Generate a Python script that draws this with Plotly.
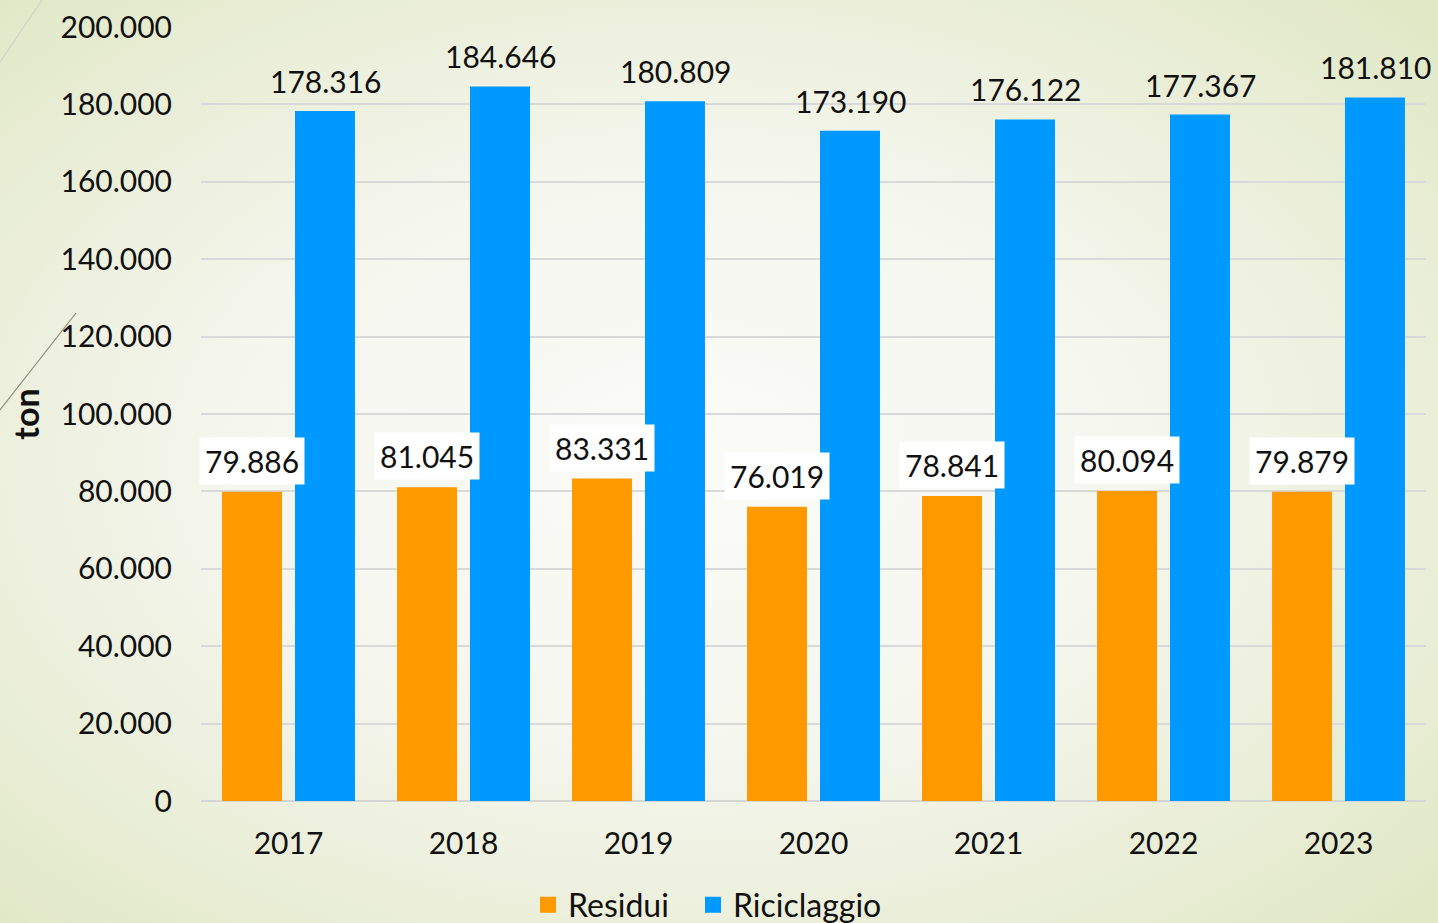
import base64
import plotly.graph_objects as go

years = ["2017", "2018", "2019", "2020", "2021", "2022", "2023"]
residui = [79886, 81045, 83331, 76019, 78841, 80094, 79879]
riciclaggio = [178316, 184646, 180809, 173190, 176122, 177367, 181810]
residui_labels = ["79.886", "81.045", "83.331", "76.019", "78.841", "80.094", "79.879"]
riciclaggio_labels = ["178.316", "184.646", "180.809", "173.190", "176.122", "177.367", "181.810"]
tick_vals = [0, 20000, 40000, 60000, 80000, 100000, 120000, 140000, 160000, 180000, 200000]
tick_text = ["0", "20.000", "40.000", "60.000", "80.000", "100.000", "120.000",
             "140.000", "160.000", "180.000", "200.000"]

W, H = 1438, 923
L, R, T, B = 201, 12, 27, 122
PW, PH = W - L - R, H - T - B

FONT = "Lato, 'Open Sans', sans-serif"
FS = 30
ORANGE = "#FF9900"
BLUE = "#0099FF"

svg = f"""<svg xmlns='http://www.w3.org/2000/svg' width='{W}' height='{H}' viewBox='0 0 {W} {H}' preserveAspectRatio='none'>
<defs><radialGradient id='g' cx='48%' cy='50%' r='70%'>
<stop offset='0' stop-color='#FBFBF8'/>
<stop offset='0.45' stop-color='#F5F6EE'/>
<stop offset='1' stop-color='#E1E8C6'/>
</radialGradient></defs>
<rect width='{W}' height='{H}' fill='url(#g)'/>
</svg>"""
bg_src = "data:image/svg+xml;base64," + base64.b64encode(svg.encode()).decode()

fig = go.Figure()
fig.add_trace(go.Bar(name="Residui", x=years, y=residui, marker_color=ORANGE,
                     marker_line_width=0, showlegend=False))
fig.add_trace(go.Bar(name="Riciclaggio", x=years, y=riciclaggio, marker_color=BLUE,
                     marker_line_width=0, showlegend=False))
# legend entries with larger square swatches, each in its own legend box
for name, col, lg in (("Residui", ORANGE, "legend"), ("Riciclaggio", BLUE, "legend2")):
    fig.add_trace(go.Scatter(name=name, x=[None], y=[None], mode="markers",
                             marker=dict(symbol="square", size=17, color=col),
                             showlegend=True, legend=lg))

annotations = []
for i, (v, t) in enumerate(zip(residui, residui_labels)):
    annotations.append(dict(x=i, y=v, xref="x", yref="y", text=t, showarrow=False,
                            xshift=-36.5, yshift=7, yanchor="bottom",
                            bgcolor="white", borderpad=5,
                            font=dict(family=FONT, size=FS, color="#111111")))
for i, (v, t) in enumerate(zip(riciclaggio, riciclaggio_labels)):
    annotations.append(dict(x=i, y=v, xref="x", yref="y", text=t, showarrow=False,
                            xshift=36.5, yshift=10, yanchor="bottom",
                            font=dict(family=FONT, size=FS, color="#111111")))


def px_x(p):
    return (p - L) / PW


def px_y(p):
    return (H - B - p) / PH


shapes = [
    dict(type="line", xref="paper", yref="paper", x0=px_x(0), y0=px_y(62),
         x1=px_x(42), y1=px_y(0), line=dict(color="#D2D3C4", width=1.2)),
    dict(type="line", xref="paper", yref="paper", x0=px_x(0), y0=px_y(410),
         x1=px_x(76), y1=px_y(313), line=dict(color="#8E8A7A", width=1.2)),
]

legend_common = dict(orientation="h", xref="container", yref="container",
                     xanchor="left", y=(H - 905) / H, yanchor="middle",
                     font=dict(family=FONT, size=32, color="#111111"),
                     bgcolor="rgba(0,0,0,0)", itemwidth=30, tracegroupgap=0,
                     itemsizing="trace")

fig.update_layout(
    width=W, height=H,
    margin=dict(l=L, r=R, t=T, b=B, autoexpand=False),
    paper_bgcolor="#F4F6EC",
    plot_bgcolor="rgba(0,0,0,0)",
    barmode="group",
    bargap=0.166,
    bargroupgap=0.178,
    font=dict(family=FONT, size=FS, color="#111111"),
    images=[dict(source=bg_src, xref="paper", yref="paper",
                 x=-L / PW, y=1 + T / PH, sizex=W / PW, sizey=H / PH,
                 xanchor="left", yanchor="top", sizing="stretch", layer="below")],
    annotations=annotations,
    shapes=shapes,
    showlegend=True,
    legend=dict(x=528 / W, **legend_common),
    legend2=dict(x=693 / W, **legend_common),
    xaxis=dict(type="category", range=[-0.5, 6.5], autorange=False,
               showgrid=False, showline=False, ticks="outside",
               ticklen=16, tickcolor="rgba(0,0,0,0)", tickfont=dict(size=FS)),
    yaxis=dict(range=[0, 200000], autorange=False, tickvals=tick_vals, ticktext=tick_text,
               showgrid=True, gridcolor="#D9D9D9", gridwidth=2,
               zeroline=True, zerolinecolor="#D5D5D5", zerolinewidth=2,
               ticks="outside", ticklen=22, tickcolor="rgba(0,0,0,0)",
               tickfont=dict(size=FS),
               title=dict(text="<b>ton</b>", standoff=10,
                          font=dict(size=34, color="#111111"))),
)

fig.write_html("out.html", config={"displayModeBar": False},
               post_script="document.body.style.margin='0';")
